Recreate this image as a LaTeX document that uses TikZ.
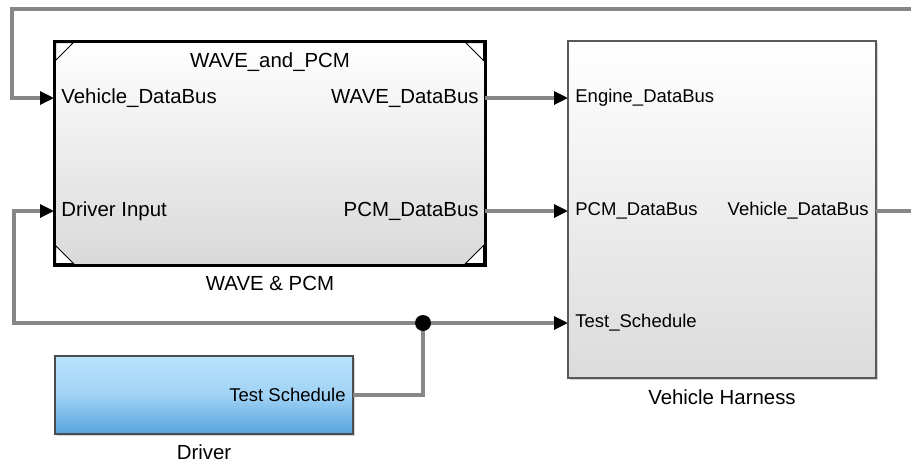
\documentclass[tikz,border=0pt]{standalone}
\usepackage{fontspec}
\setmainfont{Liberation Sans}
\usetikzlibrary{arrows.meta,shadows}
\definecolor{wiregray}{RGB}{135,135,135}
\definecolor{drvtop}{RGB}{186,227,251}
\definecolor{drvmid}{RGB}{160,210,245}
\definecolor{drvbot}{RGB}{86,163,221}

\begin{document}
\begin{tikzpicture}[x=0.5pt,y=-0.5pt,font=\fontsize{10.2}{12}\selectfont,
    wire/.style={draw=wiregray,line width=1.6pt},
    sig/.style={wire,-{Triangle[length=7pt,width=6.5pt,color=black]}},
    port/.style={inner sep=0pt},
    smallport/.style={port,font=\fontsize{9.25}{11}\selectfont},
    subsys/.style={draw=black,line width=1.5pt,outer sep=0pt,top color=white,bottom color=black!15},
    harness/.style={draw=black!65,line width=0.7pt,outer sep=0pt,top color=white,bottom color=black!14,
      drop shadow={shadow xshift=0.8pt,shadow yshift=-0.8pt,opacity=0.35}},
    source/.style={draw=black!70,line width=0.7pt,outer sep=0pt,top color=drvtop,bottom color=drvbot,middle color=drvmid,
      drop shadow={shadow xshift=0.8pt,shadow yshift=-0.8pt,opacity=0.35}}]
      \useasboundingbox (0,0) rectangle (911,463);
      \clip (0,0) rectangle (911,463);

      \node[subsys,minimum width=215.5pt,minimum height=112pt] (wave) at (269.5,153) {};
      \node[harness,minimum width=154pt,minimum height=168.5pt] (vh) at (722,209.5) {};
      \node[source,minimum width=149pt,minimum height=39pt] (drv) at (204,395) {};

      \foreach \c/\dx/\dy in {north west/1/1,north east/-1/1,south west/1/-1,south east/-1/-1}
      \filldraw[fill=white,draw=black,line width=0.5pt] ([shift={(\dx*1.5,\dy*1.5)}]wave.\c) -- ++(\dx*18,0) -- ++(-\dx*18,\dy*18) -- cycle;

      \node (wavetitle) at (270,62) {WAVE\_and\_PCM};
      \node[port,anchor=west] (wvin) at (61,98) {Vehicle\_DataBus};
      \node[port,anchor=west] (drvin) at (61,211) {Driver Input};
      \node[port,anchor=east] (waveout) at (479,98) {WAVE\_DataBus};
      \node[port,anchor=east] (pcmout) at (479,211) {PCM\_DataBus};
      \node (wavename) at (270,283) {WAVE \& PCM};

      \node[smallport,anchor=west] (engin) at (575,98) {Engine\_DataBus};
      \node[smallport,anchor=west] (pcmin) at (575,211) {PCM\_DataBus};
      \node[smallport,anchor=west] (tsin) at (575,323) {Test\_Schedule};
      \node[smallport,anchor=east] (vhout) at (869,211) {Vehicle\_DataBus};
      \node (vhname) at (722,397) {Vehicle Harness};

      \node[smallport,anchor=east] (tsout) at (346,395) {Test Schedule};
      \node (drvname) at (204,452) {Driver};

      \node[circle,fill=black,inner sep=0pt,minimum size=8pt] (junc) at (423,323) {};

      \draw[sig] (wave.east |- waveout) -- (vh.west |- engin);
      \draw[sig] (wave.east |- pcmout) -- (vh.west |- pcmin);
      \draw[wire] (drv.east |- tsout) -| (junc);
      \draw[sig] (junc) -- (vh.west |- tsin);
      \draw[sig] (junc) -- (14,323) |- (wave.west |- drvin);
      \draw[sig] (vh.east |- vhout) -- (940,211) -- (940,9) -- (12,9) |- (wave.west |- wvin);
    \end{tikzpicture}
\end{document}
